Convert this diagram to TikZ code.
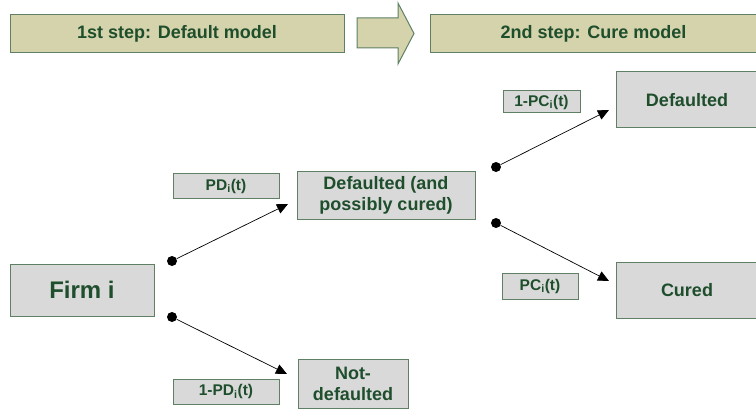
\documentclass[tikz,border=0pt]{standalone}
\usepackage{fontspec}
\setmainfont{Liberation Sans}
\usetikzlibrary{arrows.meta}
\definecolor{txt}{RGB}{30,78,44}
\definecolor{edgec}{RGB}{95,128,100}
\definecolor{khaki}{RGB}{212,211,171}
\definecolor{grayfill}{RGB}{217,217,217}
\begin{document}
\begin{tikzpicture}[x=1pt,y=-1pt,
  box/.style={draw=edgec, line width=1pt, fill=grayfill, text=txt,
    font=\fontsize{18}{21}\selectfont\bfseries, align=center,
    inner sep=0pt, outer sep=0pt},
  headbox/.style={box, fill=khaki, font=\fontsize{18}{21}\selectfont\bfseries},
  labbox/.style={box, font=\fontsize{15.5}{18}\selectfont\bfseries},
  blob/.style={circle, fill=black, inner sep=0pt, minimum size=10pt},
  conn/.style={line width=0.7pt, -{Triangle[length=11pt,width=10pt]}}]
\useasboundingbox (0,0) rectangle (756,412);

% header
\node[headbox, minimum width=334pt, minimum height=38pt] (h1) at (177,34) {1st step: Default model};
\node[headbox, minimum width=327pt, minimum height=38pt] (h2) at (593.5,34) {2nd step: Cure model};
\draw[draw=edgec, line width=1pt, fill=khaki]
  (357,18) -- (398,18) -- (398,3) -- (414,33.5) -- (398,64) -- (398,48) -- (357,48) -- cycle;

% main boxes
\node[box, minimum width=144pt, minimum height=52pt, font=\fontsize{24}{28}\selectfont\bfseries] (firm) at (82,290) {Firm i};
\node[box, minimum width=178pt, minimum height=48pt] (dpc) at (386,195) {Defaulted (and\\possibly cured)};
\node[box, minimum width=110pt, minimum height=49pt] (nd) at (353,383.5) {Not-\\defaulted};
\node[box, minimum width=142pt, minimum height=56pt] (def) at (687,100) {Defaulted};
\node[box, minimum width=142pt, minimum height=56pt] (cur) at (687,290) {Cured};

% labels
\node[labbox, minimum width=106pt, minimum height=25pt] (lpd) at (226,186) {PD\textsubscript{i}(t)};
\node[labbox, minimum width=106pt, minimum height=25pt] (lnpd) at (226,391.5) {1-PD\textsubscript{i}(t)};
\node[labbox, minimum width=77pt, minimum height=22pt] (lnpc) at (541.5,102) {1-PC\textsubscript{i}(t)};
\node[labbox, minimum width=76pt, minimum height=26pt] (lpc) at (540,286) {PC\textsubscript{i}(t)};

% dots and connectors
\node[blob] (d1) at (172,261) {};
\node[blob] (d2) at (172,317) {};
\node[blob] (d3) at (496,167) {};
\node[blob] (d4) at (496,223) {};
\coordinate (t1) at (288,204);
\coordinate (t2) at (287,374);
\coordinate (t3) at (609,110);
\coordinate (t4) at (609,281);
\draw[conn] (d1) -- (t1);
\draw[conn] (d2) -- (t2);
\draw[conn] (d3) -- (t3);
\draw[conn] (d4) -- (t4);
\end{tikzpicture}
\end{document}
